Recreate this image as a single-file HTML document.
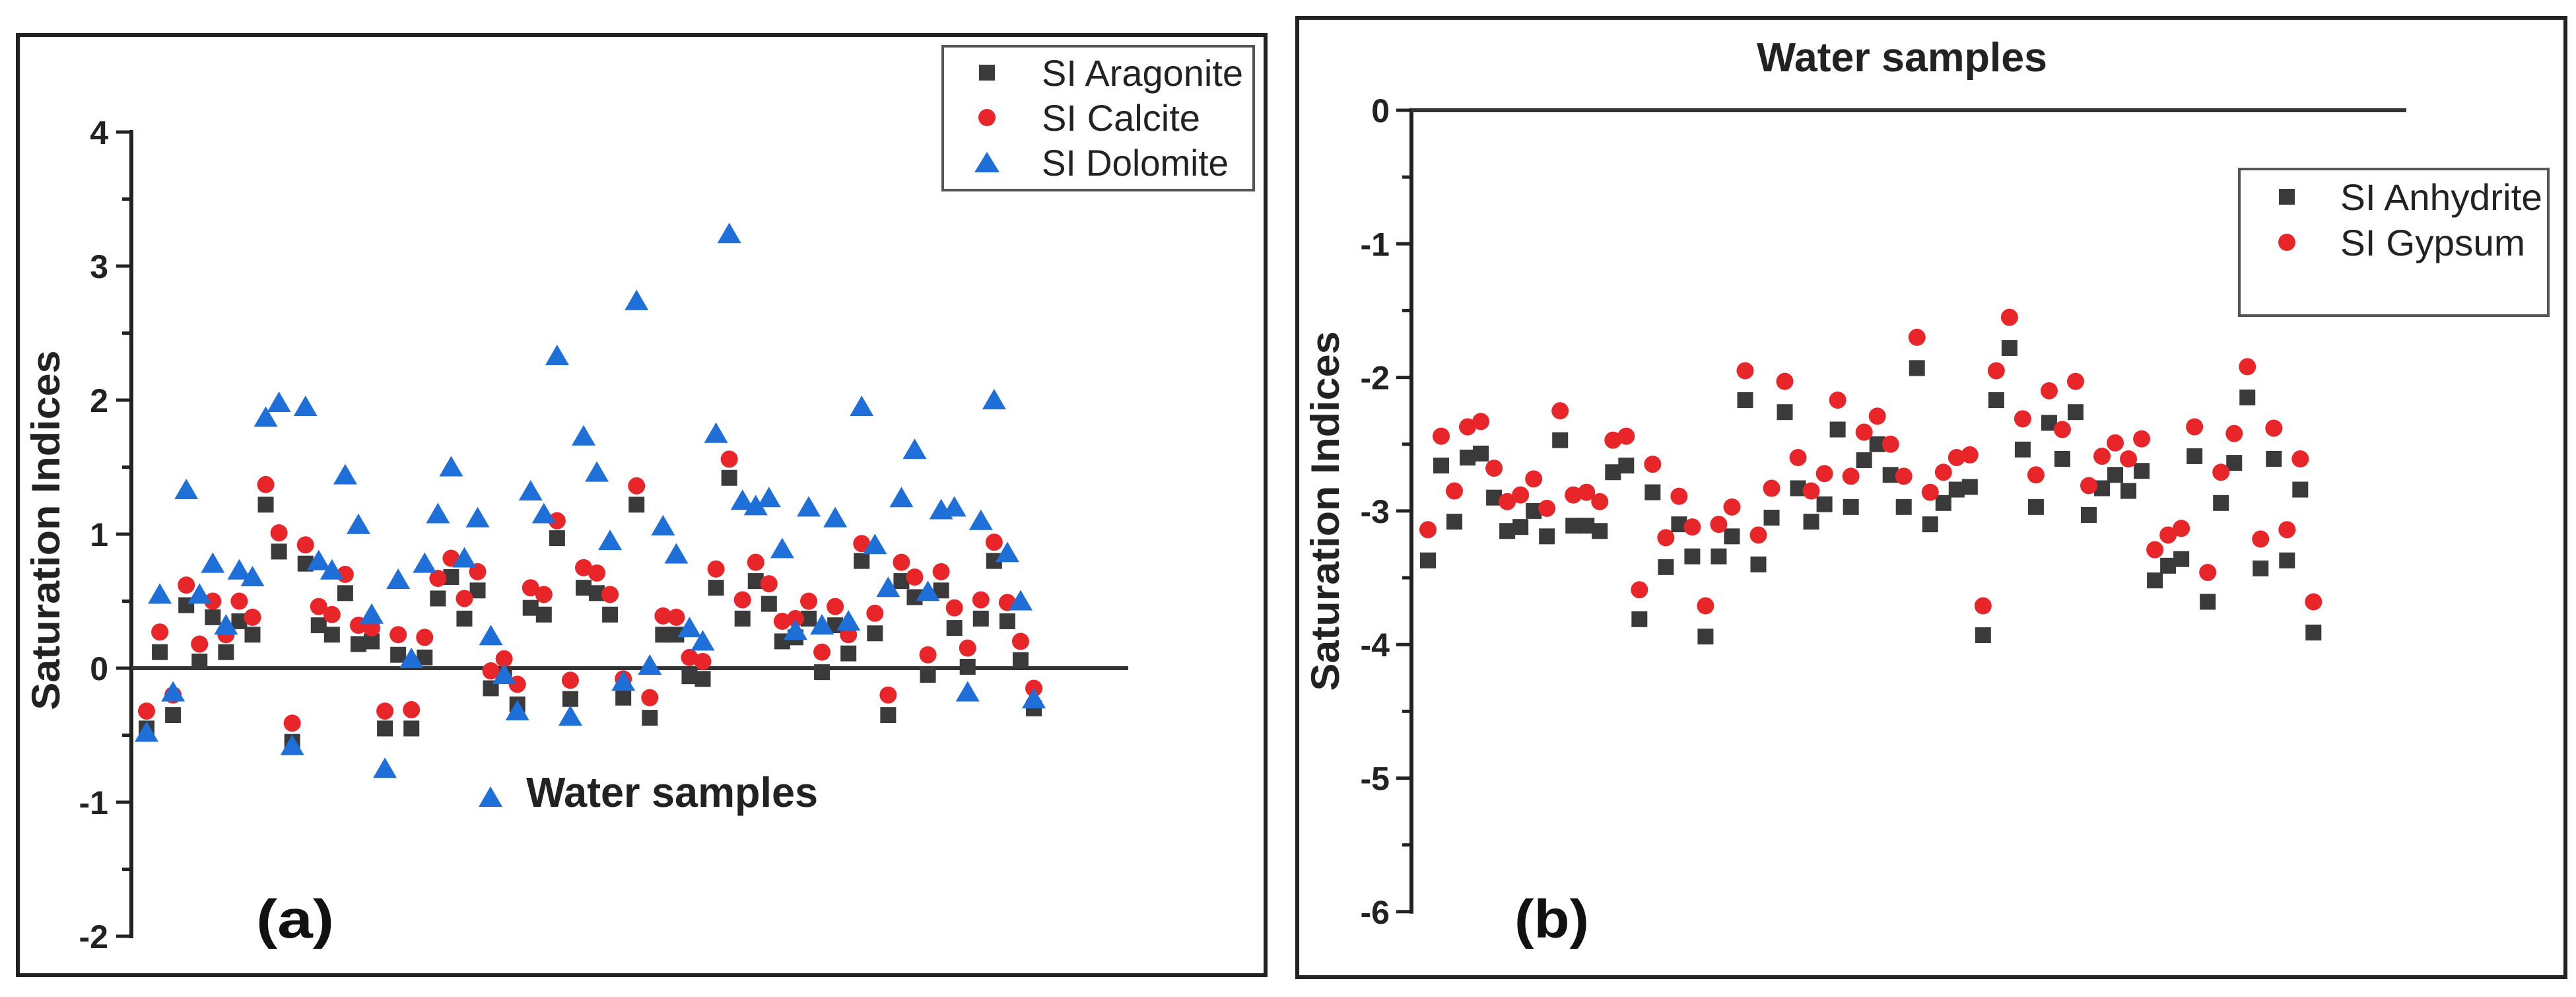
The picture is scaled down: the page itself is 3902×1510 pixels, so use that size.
<!DOCTYPE html>
<html><head><meta charset="utf-8">
<style>
html,body{margin:0;padding:0;background:#fff;}
svg{display:block;font-family:"Liberation Sans",Arial,sans-serif;}
</style></head>
<body>
<svg id="chart" width="3902" height="1510" viewBox="0 0 3902 1510" xmlns="http://www.w3.org/2000/svg">
<rect x="0" y="0" width="3902" height="1510" fill="#fff"/>
<!-- Panel A -->
<g>
<rect x="27" y="53" width="1890" height="1424" fill="none" stroke="#222" stroke-width="6"/>
<g id="aAxis"></g>
<g id="aPts"></g>
<text transform="translate(90,803) rotate(-90)" text-anchor="middle" font-weight="bold" font-size="60" fill="#222" textLength="545" lengthAdjust="spacingAndGlyphs">Saturation Indices</text>
<polygon points="743,1191 761,1222 725,1222" fill="#1f6fd9"/>
<text x="797" y="1222" font-weight="bold" font-size="64" fill="#222" textLength="442" lengthAdjust="spacingAndGlyphs">Water samples</text>
<text x="388" y="1420" font-weight="bold" font-size="82" fill="#111" textLength="118" lengthAdjust="spacingAndGlyphs">(a)</text>
<g>
<rect x="1428" y="70" width="471" height="218" fill="#fff" stroke="#555" stroke-width="4"/>
<rect x="1483" y="98" width="24" height="24" fill="#3a3a3a"/>
<text x="1578" y="130" font-size="56" fill="#222" textLength="305" lengthAdjust="spacingAndGlyphs">SI Aragonite</text>
<circle cx="1495" cy="178" r="13" fill="#e8262a"/>
<text x="1578" y="198" font-size="56" fill="#222" textLength="240" lengthAdjust="spacingAndGlyphs">SI Calcite</text>
<polygon points="1495,230 1514,261 1476,261" fill="#1f6fd9"/>
<text x="1578" y="266" font-size="56" fill="#222" textLength="283" lengthAdjust="spacingAndGlyphs">SI Dolomite</text>
</g>
</g>
<!-- Panel B -->
<g>
<rect x="1965" y="27" width="1921" height="1453" fill="none" stroke="#222" stroke-width="6"/>
<g id="bAxis"></g>
<g id="bPts"></g>
<text x="2661" y="108" font-weight="bold" font-size="62" fill="#222" textLength="440" lengthAdjust="spacingAndGlyphs">Water samples</text>
<text transform="translate(2028,774) rotate(-90)" text-anchor="middle" font-weight="bold" font-size="60" fill="#222" textLength="545" lengthAdjust="spacingAndGlyphs">Saturation Indices</text>
<text x="2294" y="1420" font-weight="bold" font-size="82" fill="#111" textLength="113" lengthAdjust="spacingAndGlyphs">(b)</text>
<g>
<rect x="3392" y="256" width="468" height="222" fill="#fff" stroke="#555" stroke-width="4"/>
<rect x="3452" y="286" width="24" height="24" fill="#3a3a3a"/>
<text x="3545" y="318" font-size="56" fill="#222" textLength="306" lengthAdjust="spacingAndGlyphs">SI Anhydrite</text>
<circle cx="3464" cy="367" r="13" fill="#e8262a"/>
<text x="3545" y="387" font-size="56" fill="#222" textLength="280" lengthAdjust="spacingAndGlyphs">SI Gypsum</text>
</g>
</g>
</svg>
<script>
const aTicks = [4, 3, 2, 1, 0, -1, -2];
const aTickLabels = ["4", "3", "2", "1", "0", "-1", "-2"];
const aragonite = [-0.45,0.12,-0.35,0.47,0.05,0.38,0.12,0.35,0.25,1.22,0.87,-0.55,0.78,0.32,0.25,0.56,0.18,0.2,-0.45,0.1,-0.45,0.08,0.52,0.68,0.37,0.58,-0.15,-0.05,-0.27,0.45,0.4,0.97,-0.23,0.6,0.56,0.4,-0.22,1.22,-0.37,0.25,0.25,-0.06,-0.08,0.6,1.42,0.37,0.65,0.48,0.2,0.23,0.37,-0.03,0.32,0.11,0.8,0.26,-0.35,0.65,0.53,-0.05,0.58,0.3,0.01,0.37,0.8,0.35,0.06,-0.3];
const calcite = [-0.32,0.27,-0.2,0.62,0.18,0.5,0.25,0.5,0.38,1.37,1.01,-0.41,0.92,0.46,0.4,0.7,0.32,0.3,-0.32,0.25,-0.31,0.23,0.67,0.82,0.52,0.72,-0.02,0.07,-0.12,0.6,0.55,1.1,-0.09,0.75,0.71,0.55,-0.08,1.36,-0.22,0.39,0.38,0.08,0.05,0.74,1.56,0.51,0.79,0.63,0.35,0.37,0.5,0.12,0.46,0.25,0.93,0.41,-0.2,0.79,0.68,0.1,0.72,0.45,0.15,0.51,0.94,0.49,0.2,-0.15];
const dolomite = [-0.48,0.55,-0.18,1.33,0.55,0.78,0.32,0.73,0.68,1.87,1.98,-0.58,1.95,0.8,0.73,1.44,1.07,0.4,-0.75,0.66,0.07,0.78,1.15,1.5,0.82,1.12,0.24,-0.05,-0.32,1.32,1.15,2.33,-0.36,1.73,1.46,0.95,-0.1,2.74,0.02,1.06,0.85,0.3,0.2,1.75,3.24,1.25,1.21,1.27,0.89,0.28,1.2,0.32,1.12,0.35,1.95,0.92,0.6,1.27,1.63,0.57,1.18,1.2,-0.18,1.1,2.0,0.86,0.5,-0.23];
const bTicks = [0, -1, -2, -3, -4, -5, -6];
const bTickLabels = ["0", "-1", "-2", "-3", "-4", "-5", "-6"];
const anhydrite = [-3.37,-2.66,-3.08,-2.6,-2.57,-2.9,-3.15,-3.12,-3.0,-3.19,-2.47,-3.11,-3.11,-3.15,-2.71,-2.66,-3.81,-2.86,-3.42,-3.1,-3.34,-3.94,-3.34,-3.19,-2.17,-3.4,-3.05,-2.26,-2.83,-3.08,-2.95,-2.39,-2.97,-2.62,-2.5,-2.73,-2.97,-1.93,-3.1,-2.94,-2.84,-2.82,-3.93,-2.17,-1.78,-2.54,-2.97,-2.34,-2.61,-2.26,-3.03,-2.83,-2.73,-2.85,-2.7,-3.52,-3.41,-3.36,-2.59,-3.68,-2.94,-2.64,-2.15,-3.43,-2.61,-3.37,-2.84,-3.91];
const gypsum = [-3.14,-2.44,-2.85,-2.37,-2.33,-2.68,-2.93,-2.88,-2.76,-2.98,-2.25,-2.88,-2.86,-2.93,-2.47,-2.44,-3.59,-2.65,-3.2,-2.89,-3.12,-3.71,-3.1,-2.97,-1.95,-3.18,-2.83,-2.03,-2.6,-2.85,-2.72,-2.17,-2.74,-2.41,-2.29,-2.5,-2.74,-1.7,-2.86,-2.71,-2.6,-2.58,-3.71,-1.95,-1.55,-2.31,-2.73,-2.1,-2.39,-2.03,-2.81,-2.59,-2.49,-2.61,-2.46,-3.29,-3.18,-3.13,-2.37,-3.46,-2.71,-2.42,-1.92,-3.21,-2.38,-3.14,-2.61,-3.68];

const NS = "http://www.w3.org/2000/svg";
function mk(tag, attrs, parent){ const e=document.createElementNS(NS,tag); for(const k in attrs) e.setAttribute(k,attrs[k]); parent.appendChild(e); return e; }

// Panel A scales
const aY = v => 1012 - v * 203;
const aX = i => 222 + i * 20.06;
// Panel B scales
const bY = v => 167 - v * 202.3;
const bX = i => 2163 + i * 20.02;

function drawAxis(g, ticks, labels, yf, axX, labelRight, lineEnd, zeroY){
  mk("line",{x1:axX,y1:yf(ticks[0])-3,x2:axX,y2:yf(ticks[ticks.length-1])+3,stroke:"#222","stroke-width":6},g);
  ticks.forEach((t,k)=>{
    const y=yf(t);
    const tl=mk("line",{x1:axX-23,y1:y,x2:axX,y2:y,stroke:"#222","stroke-width":5},g);
    
    
    if(k<ticks.length-1){
      const ym=yf((t+ticks[k+1])/2);
      const mt=mk("line",{x1:axX-14,y1:ym,x2:axX,y2:ym,stroke:"#222","stroke-width":5},g);
      
      
    }
    const tx=mk("text",{x:labelRight,y:y+18,"text-anchor":"end","font-weight":"bold","font-size":50,fill:"#222"},g);
    tx.textContent=labels[k];
    
    
  });
  const zl=mk("line",{x1:axX,y1:yf(zeroY),x2:lineEnd,y2:yf(zeroY),stroke:"#333","stroke-width":6},g);
  
  
}
drawAxis(document.getElementById("aAxis"), aTicks, aTickLabels, aY, 199, 164, 1709, 0);
drawAxis(document.getElementById("bAxis"), bTicks, bTickLabels, bY, 2138, 2105, 3645, 0);

function square(g,x,y,name){ const r=mk("rect",{x:x-12,y:y-12,width:24,height:24,fill:"#3a3a3a"},g);
  
   }
function circ(g,x,y,name){ const c=mk("circle",{cx:x,cy:y,r:13,fill:"#e8262a"},g);
  
   }
function tri(g,x,y,name){ const p=mk("polygon",{points:`${x},${y-17} ${x+18},${y+14} ${x-18},${y+14}`,fill:"#1f6fd9"},g);
  
   }

const ga=document.getElementById("aPts");
aragonite.forEach((v,i)=>square(ga,aX(i),aY(v),'aragonite-point'));
calcite.forEach((v,i)=>circ(ga,aX(i),aY(v),'calcite-point'));
dolomite.forEach((v,i)=>tri(ga,aX(i),aY(v),'dolomite-point'));
const gb=document.getElementById("bPts");
anhydrite.forEach((v,i)=>square(gb,bX(i),bY(v),'anhydrite-point'));
gypsum.forEach((v,i)=>circ(gb,bX(i),bY(v),'gypsum-point'));
</script>
</body></html>
